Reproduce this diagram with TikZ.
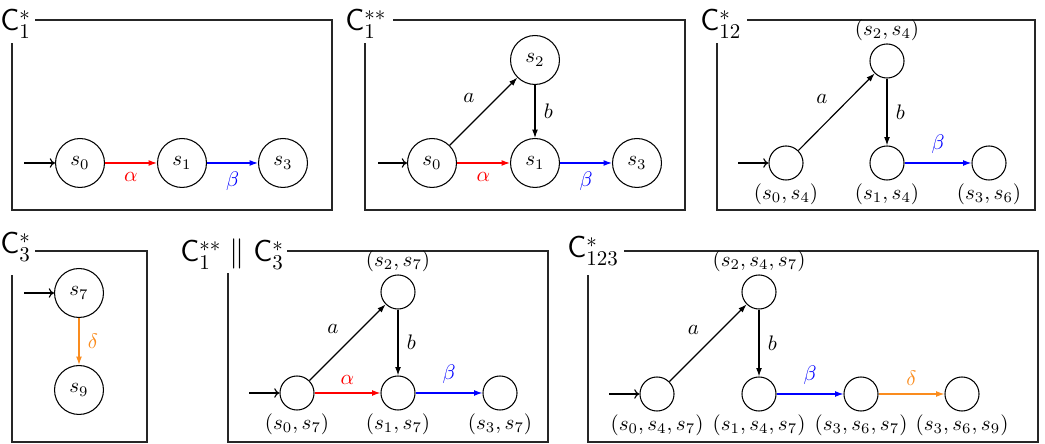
\documentclass[tikz,border=0pt]{standalone}
\usetikzlibrary{arrows.meta}
\definecolor{myorange}{RGB}{250,140,30}
\begin{document}
\begin{tikzpicture}[x=0.476pt,y=-0.476pt,
  frame/.style={line width=0.75pt, draw=black!85},
  title/.style={font=\Large, anchor=base west, inner sep=0pt},
  big/.style={circle, draw, line width=0.5pt, minimum size=23.3pt, inner sep=0pt},
  small/.style={circle, draw, line width=0.5pt, minimum size=16.2pt, inner sep=0pt},
  edge/.style={-{Latex[length=4pt,width=2.8pt]}, line width=0.55pt},
  init/.style={-{To[length=2.5pt,width=4.5pt]}, line width=0.55pt},
  lab/.style={inner sep=4pt},
  every label/.style={inner sep=1.3pt},
]
\useasboundingbox (0,0) rectangle (1045,444);

% ---------- Panel 1: C1*
\draw[frame] (35,20) -- (332,20) -- (332,210) -- (12,210) -- (12,43);
\node[title] (t1) at (0,31) {$\mathsf{C}_1^{*}$};
\coordinate (i1) at (24,163);
\node[big] (a0) at (80,163) {$s_0$};
\node[big] (a1) at (182,163) {$s_1$};
\node[big] (a3) at (283,163) {$s_3$};
\draw[init] (i1) -- (a0);
\draw[edge,red] (a0) -- node[lab,below] {$\alpha$} (a1);
\draw[edge,blue] (a1) -- node[lab,below] {$\beta$} (a3);

% ---------- Panel 2: C1**
\draw[frame] (393,20) -- (685,20) -- (685,210) -- (365,210) -- (365,43);
\node[title] (t2) at (345,31) {$\mathsf{C}_1^{**}$};
\coordinate (i2) at (378,163);
\node[big] (b0) at (432,163) {$s_0$};
\node[big] (b1) at (535,163) {$s_1$};
\node[big] (b3) at (637,163) {$s_3$};
\node[big] (b2) at (535,60) {$s_2$};
\draw[init] (i2) -- (b0);
\draw[edge] (b0) -- node[lab,above left] {$a$} (b2);
\draw[edge] (b2) -- node[lab,right] {$b$} (b1);
\draw[edge,red] (b0) -- node[lab,below] {$\alpha$} (b1);
\draw[edge,blue] (b1) -- node[lab,below] {$\beta$} (b3);

% ---------- Panel 3: C12*
\draw[frame] (747,20) -- (1035,20) -- (1035,210) -- (717,210) -- (717,43);
\node[title] (t3) at (700,31) {$\mathsf{C}_{12}^{*}$};
\coordinate (i3) at (738,163);
\node[small,label=below:{$(s_0,s_4)$}] (c0) at (786,163) {};
\node[small,label=below:{$(s_1,s_4)$}] (c1) at (887,163) {};
\node[small,label=below:{$(s_3,s_6)$}] (c3) at (989,163) {};
\node[small,label=above:{$(s_2,s_4)$}] (c2) at (887,61) {};
\draw[init] (i3) -- (c0);
\draw[edge] (c0) -- node[lab,above left] {$a$} (c2);
\draw[edge] (c2) -- node[lab,right] {$b$} (c1);
\draw[edge,blue] (c1) -- node[lab,above] {$\beta$} (c3);

% ---------- Panel 4: C3*
\draw[frame] (35,251) -- (147,251) -- (147,442) -- (12,442) -- (12,275);
\node[title] (t4) at (0,254) {$\mathsf{C}_3^{*}$};
\coordinate (i4) at (24,293);
\node[big] (d7) at (79,293) {$s_7$};
\node[big] (d9) at (79,390) {$s_9$};
\draw[init] (i4) -- (d7);
\draw[edge,myorange] (d7) -- node[lab,right] {$\delta$} (d9);

% ---------- Panel 5: C1** || C3*
\draw[frame] (287,251) -- (548,251) -- (548,442) -- (228,442) -- (228,273);
\node[title] (t5) at (180,262) {$\mathsf{C}_1^{**} \parallel \mathsf{C}_3^{*}$};
\coordinate (i5) at (249,393);
\node[small,label=below:{$(s_0,s_7)$}] (e0) at (297,393) {};
\node[small,label=below:{$(s_1,s_7)$}] (e1) at (398,393) {};
\node[small,label=below:{$(s_3,s_7)$}] (e3) at (500,393) {};
\node[small,label=above:{$(s_2,s_7)$}] (e2) at (398,292) {};
\draw[init] (i5) -- (e0);
\draw[edge] (e0) -- node[lab,above left] {$a$} (e2);
\draw[edge] (e2) -- node[lab,right] {$b$} (e1);
\draw[edge,red] (e0) -- node[lab,above] {$\alpha$} (e1);
\draw[edge,blue] (e1) -- node[lab,above] {$\beta$} (e3);

% ---------- Panel 6: C123*
\draw[frame] (624,251) -- (1038,251) -- (1038,442) -- (588,442) -- (588,275);
\node[title] (t6) at (567,258) {$\mathsf{C}_{123}^{*}$};
\coordinate (i6) at (609,394);
\node[small,label=below:{$(s_0,s_4,s_7)$}] (f0) at (657,394) {};
\node[small,label=below:{$(s_1,s_4,s_7)$}] (f1) at (759,394) {};
\node[small,label=below:{$(s_3,s_6,s_7)$}] (f3) at (861,394) {};
\node[small,label=below:{$(s_3,s_6,s_9)$}] (f9) at (962,394) {};
\node[small,label=above:{$(s_2,s_4,s_7)$}] (f2) at (759,292) {};
\draw[init] (i6) -- (f0);
\draw[edge] (f0) -- node[lab,above left] {$a$} (f2);
\draw[edge] (f2) -- node[lab,right] {$b$} (f1);
\draw[edge,blue] (f1) -- node[lab,above] {$\beta$} (f3);
\draw[edge,myorange] (f3) -- node[lab,above] {$\delta$} (f9);
\end{tikzpicture}
\end{document}
